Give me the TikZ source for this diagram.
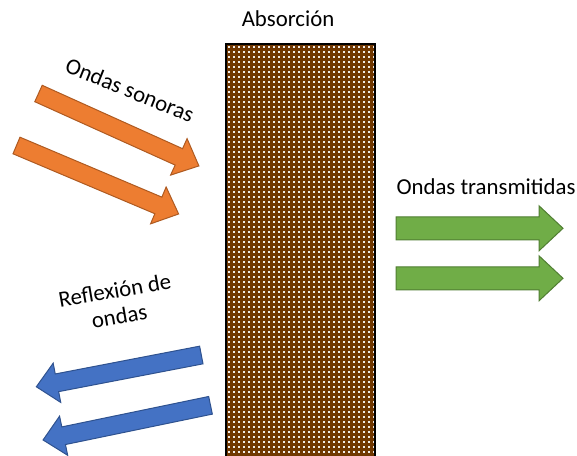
\documentclass[tikz,border=0pt]{standalone}
\usepackage{fontspec}
\setmainfont{Carlito}
\definecolor{wallbrown}{RGB}{112,55,0}
\definecolor{orfill}{HTML}{ED7D31}
\definecolor{ordraw}{HTML}{AE5A21}
\definecolor{grfill}{HTML}{70AD47}
\definecolor{grdraw}{HTML}{507E32}
\definecolor{blfill}{HTML}{4472C4}
\definecolor{bldraw}{HTML}{2F528F}
\tikzset{
  orangearrow/.style={fill=orfill, draw=ordraw, line width=1pt, line join=miter},
  greenarrow/.style={fill=grfill, draw=grdraw, line width=1pt, line join=miter},
  bluearrow/.style={fill=blfill, draw=bldraw, line width=1pt, line join=miter},
  lbl/.style={font=\fontsize{22.8}{26}\selectfont, inner sep=0pt, align=center}
}
\newcommand\fatarrow[6]{% style, length, shaft half, head half, head length, name
  \draw[#1] (0,-#3) -- ({#2-#5},-#3) -- ({#2-#5},-#4) -- (#2,0) coordinate (#6) -- ({#2-#5},#4) -- ({#2-#5},#3) -- (0,#3) -- cycle;
}
\begin{document}
\begin{tikzpicture}[x=1pt,y=-1pt]
\path[use as bounding box] (0,0) rectangle (577,455);
% absorbing wall
\fill[wallbrown] (226,44) rectangle (375,458);
\foreach \i in {0,...,29}{
  \foreach \j in {0,...,82}{
    \fill[white, opacity=0.9] ({228+5*\i},{46+5*\j}) rectangle ++(2,2);
  }
}
\draw[black, line width=1.5pt] (226,458) -- (226,44) coordinate (walltl) -- (375,44) coordinate (walltr) -- (375,458);
\node[lbl] (abs) at (288,19) {Absorción};
% incoming sound waves
\begin{scope}[shift={(38.5,93.5)}, rotate=-24.3]
  \fatarrow{orangearrow}{176}{9}{20}{22}{o1}
\end{scope}
\begin{scope}[shift={(16.5,145.5)}, rotate=-22.9]
  \fatarrow{orangearrow}{176}{9}{20}{22}{o2}
\end{scope}
\node[lbl, rotate=-22] (son) at (130,90) {Ondas sonoras};
% transmitted waves
\begin{scope}[shift={(396,228.3)}]
  \fatarrow{greenarrow}{167}{11.5}{22.5}{24}{g1}
\end{scope}
\begin{scope}[shift={(396,278.3)}]
  \fatarrow{greenarrow}{167}{11.5}{22.5}{24}{g2}
\end{scope}
\node[lbl] (trans) at (486,187) {Ondas transmitidas};
% reflected waves
\begin{scope}[shift={(201.3,355)}, rotate=-169.1]
  \fatarrow{bluearrow}{168}{9}{20}{21}{b1}
\end{scope}
\begin{scope}[shift={(210.5,405.3)}, rotate=-168.3]
  \fatarrow{bluearrow}{171}{9}{20}{21}{b2}
\end{scope}
\node[lbl, rotate=10] (refl) at (117,303) {Reflexión de\\ondas};
\end{tikzpicture}
\end{document}
